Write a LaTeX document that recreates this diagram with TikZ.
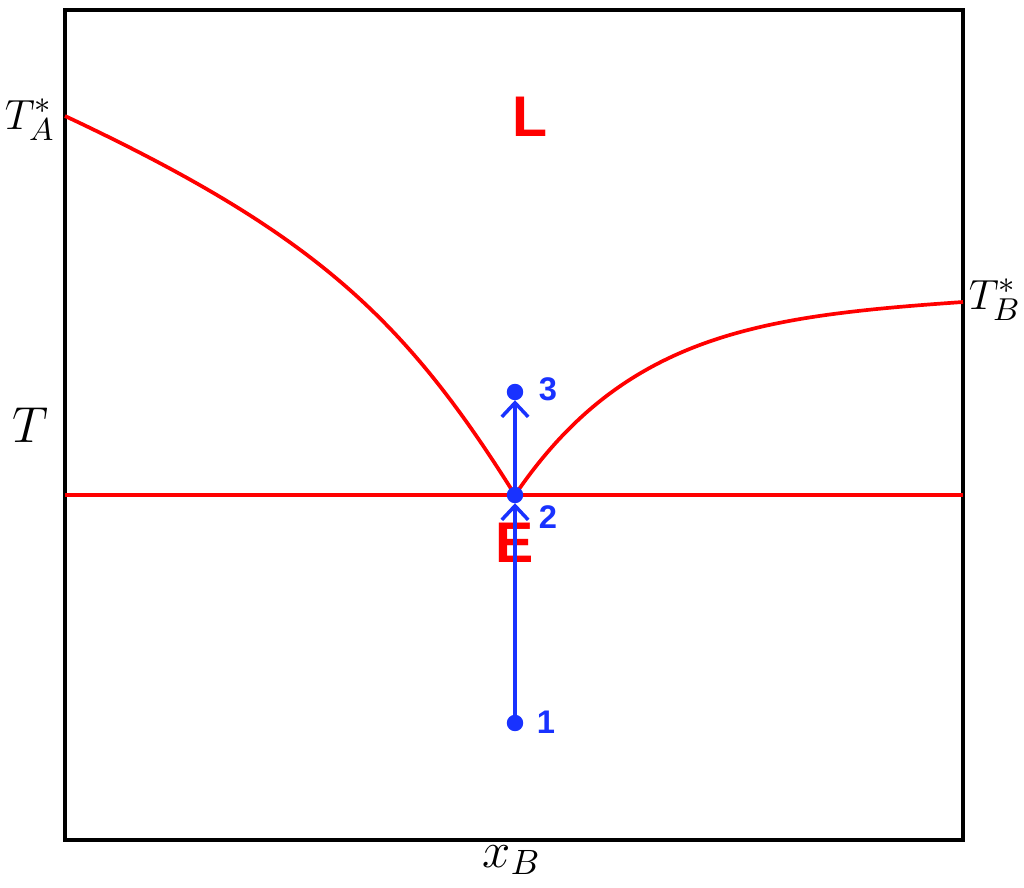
\documentclass[tikz,border=0pt]{standalone}
\usepackage{fontspec}
\setsansfont{Liberation Sans}
\usetikzlibrary{arrows.meta}
\definecolor{ptblue}{RGB}{25,50,255}
\tikzset{
  phase/.style={red, line width=1.05pt},
  region/.style={red, font=\fontsize{16.3}{18}\sffamily\bfseries},
  state/.style={draw=ptblue, fill=ptblue, circle, inner sep=0pt, minimum size=0.15cm},
  num/.style={ptblue, font=\fontsize{9.3}{11}\sffamily\bfseries},
  path/.style={ptblue, line width=1pt, -{Straight Barb[length=4pt,width=7.5pt,line width=1pt]}}
}
\begin{document}
\begin{tikzpicture}[x=0.01cm, y=-0.01cm]
    \useasboundingbox (0,0) rectangle (1024,888);
    % frame and axis labels
    \draw[line width=1.4pt] (65,10) rectangle (963,840);
    \node(xlab) at (512,860) [font=\fontsize{14.5}{16}\selectfont] {$x_B$};
    \node(ylab) at (30,425) [font=\fontsize{14.5}{16}\selectfont] {$T$};
    \node(TA) at (30,120) [font=\fontsize{13}{15}\selectfont] {$T_A^*$};
    \node(TB) at (995,300) [font=\fontsize{13}{15}\selectfont] {$T_B^*$};

    % liquidus lines and eutectic
    \draw[phase] (65,116) .. controls (315,233.5) and (405,319) .. (515,495);
    \draw[phase] (515,495) .. controls (625,333) and (763,316) .. (963,302);
    \draw[phase] (65,495) -- (963,495);

    \node(liq) at (530,117) [region] {L};
    \node(eut) at (515,543) [region] {E};

    % heating path
    \node(p1) at (515,723) [state] {};
    \node(p2) at (515,495) [state] {};
    \node(p3) at (515,392) [state] {};
    \node(n1) at (546,722) [num] {1};
    \node(n2) at (548,517) [num] {2};
    \node(n3) at (548,389) [num] {3};

    \draw[path] (p1) -- (p2);
    \draw[path] (p2) -- (p3);
\end{tikzpicture}
\end{document}
